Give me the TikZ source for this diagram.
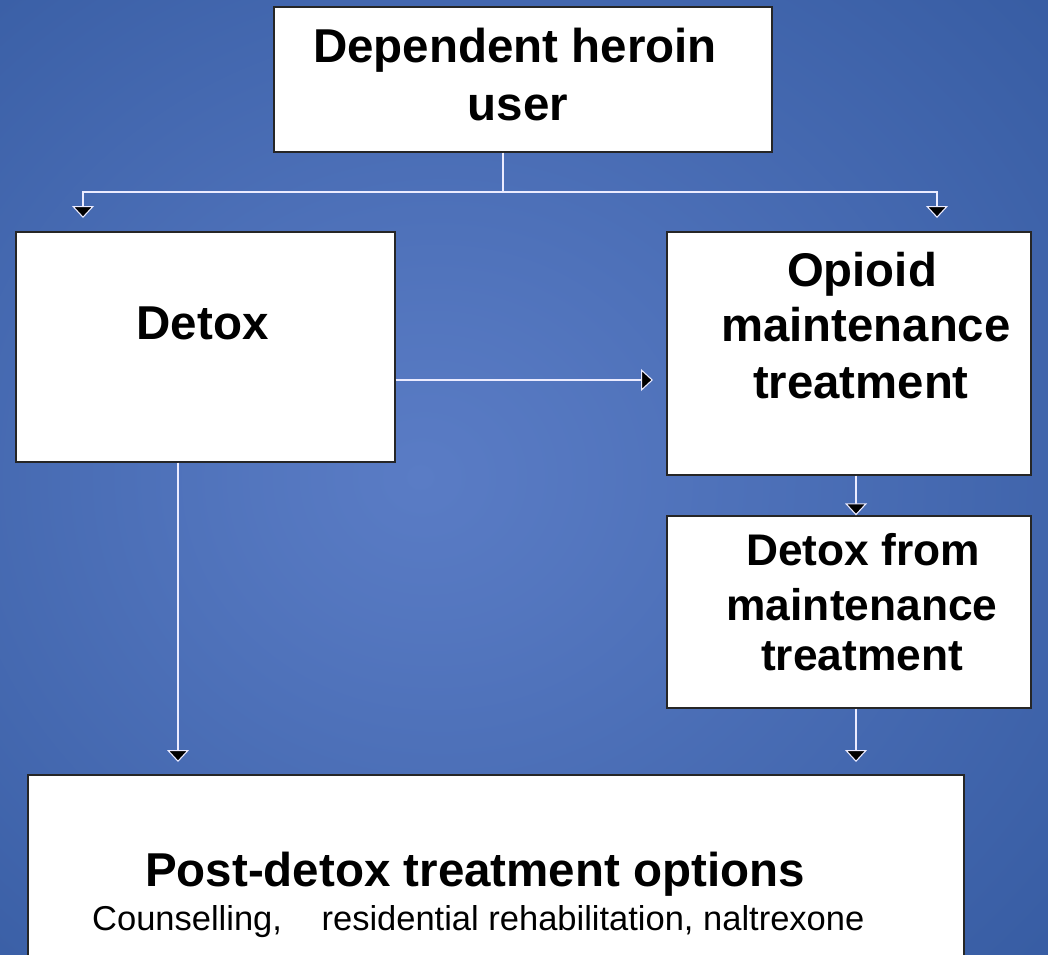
\documentclass[tikz,border=0pt]{standalone}
\usepackage{fontspec}
\setmainfont{Liberation Sans}
\usetikzlibrary{arrows.meta}
\definecolor{bgin}{RGB}{90,124,197}
\definecolor{bgmid}{RGB}{47,85,155}
\definecolor{bgout}{RGB}{37,71,135}
\pgfdeclareradialshading{slidebg}{\pgfpoint{-5bp}{0bp}}{color(0bp)=(bgin); color(8bp)=(bgin!85!bgmid); color(46bp)=(bgmid); color(72bp)=(bgout)}
\begin{document}
\begin{tikzpicture}[x=1pt,y=-1pt,
  box/.style={draw=black!85,line width=1.3pt,fill=white,inner sep=0pt},
  big/.style={anchor=base,inner sep=0pt,font=\bfseries\fontsize{47.5}{57}\selectfont},
  mid/.style={anchor=base,inner sep=0pt,font=\bfseries\fontsize{47.3}{56}\selectfont},
  small/.style={anchor=base,inner sep=0pt,font=\bfseries\fontsize{44.3}{52}\selectfont},
  plain/.style={anchor=base west,inner sep=0pt,font=\fontsize{34.5}{40}\selectfont},
  conn/.style={draw=white!92!blue,line width=1.6pt},
  arr/.style={conn,-{Triangle[width=22pt,length=12pt,fill=black,line width=1.1pt]}}]
\useasboundingbox (0,0) rectangle (1048,954);
% slide background
\shade[shading=slidebg] (0,0) rectangle (1048,954);

% boxes
\node[box,minimum width=498pt,minimum height=145pt] (user) at (523,79.5) {};
\node[box,minimum width=379pt,minimum height=230pt] (detox) at (205.5,347) {};
\node[box,minimum width=364pt,minimum height=243pt] (omt) at (849,353.5) {};
\node[box,minimum width=364pt,minimum height=192pt] (dfrom) at (849,612) {};
\node[box,minimum width=936pt,minimum height=225pt] (post) at (496,887.5) {};

% box texts
\node[big] (userA) at (515,62.5) {Dependent heroin};
\node[big] (userB) at (518,120.7) {user};
\node[big] (detoxT) at (202.5,339) {Detox};
\node[mid] (omtA) at (862,286.7) {Opioid};
\node[mid] (omtB) at (866,341.7) {maintenance};
\node[mid] (omtC) at (861,398) {treatment};
\node[small] (dfromA) at (863,565) {Detox from};
\node[small] (dfromB) at (862,620) {maintenance};
\node[small] (dfromC) at (862,670) {treatment};
\node[big,anchor=base west] (postT) at (145,886) {Post-detox treatment options};
\node[plain] (postS) at (92,930) {Counselling,\hspace{30pt} residential rehabilitation, naltrexone};

% connector ends
\coordinate (split) at (503,192);
\coordinate (inL) at (83,218);
\coordinate (inR) at (937,218);
\coordinate (inO) at (653,380);
\coordinate (inP1) at (178,762);
\coordinate (inP2) at (856,762);

% connectors
\draw[conn] (user.south -| split) -- (split);
\draw[arr] (split) -| (inL);
\draw[arr] (split) -| (inR);
\draw[arr] (detox.east |- inO) -- (inO);
\draw[arr] (omt.south -| inP2) -- (dfrom.north -| inP2);
\draw[arr] (detox.south -| inP1) -- (inP1);
\draw[arr] (dfrom.south -| inP2) -- (inP2);
\end{tikzpicture}
\end{document}
